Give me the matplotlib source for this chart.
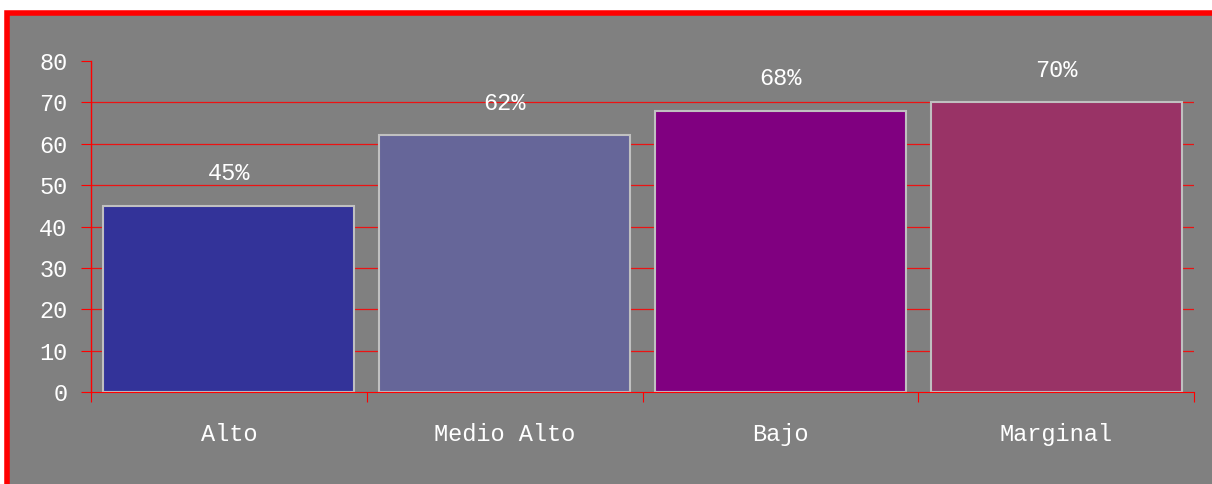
import matplotlib.pyplot as plt
from matplotlib.patches import Rectangle

categories = ['Alto', 'Medio Alto', 'Bajo', 'Marginal']
values = [45, 62, 68, 70]
labels = ['45%', '62%', '68%', '70%']
colors = ['#333399', '#666699', '#800080', '#993366']

plt.rcParams['font.family'] = ['Liberation Mono', 'DejaVu Sans Mono']

fig = plt.figure(figsize=(12.12, 4.84), dpi=100, facecolor='white')

# gray panel with red frame on top and left
w, h = 1212, 484
fig.patches.append(Rectangle((6.5 / w, -0.1), 1.2, 1.1 - 12.5 / h,
                             transform=fig.transFigure, facecolor='#808080',
                             edgecolor='#ff0000', linewidth=4, zorder=-5))

ax = fig.add_axes([91 / w, 1 - 392 / h, (1194 - 91) / w, (392 - 61) / h])
ax.set_facecolor('none')

x = range(len(categories))
ax.bar(x, values, width=0.91, color=colors, edgecolor='#c0c0c0', linewidth=1.5, zorder=3)

for i, (v, t) in enumerate(zip(values, labels)):
    ax.annotate(t, (i, v), xytext=(0, 15), textcoords='offset points',
                ha='center', va='bottom', color='white', fontsize=17)

ax.set_xlim(-0.5, len(categories) - 0.5)
ax.set_ylim(0, 80)
ax.set_yticks(range(0, 81, 10))
ax.set_xticks([i - 0.5 for i in range(len(categories) + 1)])
ax.set_xticklabels([])
ax.set_xticks(list(x), minor=True)
ax.set_xticklabels(categories, minor=True)
ax.tick_params(axis='x', which='minor', length=0, pad=22, labelsize=17, labelcolor='white')
ax.tick_params(axis='x', which='major', length=7, color='#ff0000', direction='out')
ax.tick_params(axis='y', length=7, color='#ff0000', labelsize=17, labelcolor='white', pad=10)

for y in range(10, 80, 10):
    ax.axhline(y, color='#ff0000', linewidth=0.9, alpha=0.85, zorder=1)

for s in ['top', 'right']:
    ax.spines[s].set_visible(False)
ax.spines['left'].set_color('#ff0000')
ax.spines['left'].set_linewidth(1.0)
ax.spines['bottom'].set_color('#ff0000')
ax.spines['bottom'].set_zorder(4)

fig.savefig('out.png', dpi=100)
